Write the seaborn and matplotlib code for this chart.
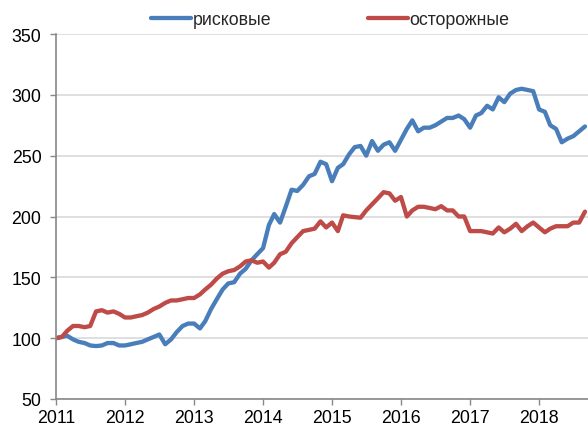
import pandas as pd
import matplotlib
matplotlib.use("Agg")
import matplotlib.pyplot as plt
import matplotlib.dates as mdates
import seaborn as sns

# monthly index values, Jan 2011 = 100
months = pd.date_range("2011-01-01", periods=93, freq="MS")

risky = [
    100, 101, 102, 99, 97, 96, 94, 93.5, 94, 96, 96, 94,
    94, 95, 96, 97, 99, 101, 103, 95, 99, 105, 110, 112,
    112, 108, 114, 124, 132, 140, 145, 146, 153, 157, 164, 169,
    174, 193, 202, 195, 208, 222, 221, 226, 233, 235, 245, 243,
    229, 240, 243, 251, 257, 258, 250, 262, 254, 259, 261, 254,
    263, 272, 279, 270, 273, 273, 275, 278, 281, 281, 283, 280,
    273, 283, 285, 291, 288, 298, 294, 301, 304, 305, 304, 303,
    288, 286, 275, 272, 261, 264, 266, 270, 274,
]
careful = [
    100, 101, 106, 110, 110, 109, 110, 122, 123, 121, 122, 120,
    117, 117, 118, 119, 121, 124, 126, 129, 131, 131, 132, 133,
    133, 136, 140, 144, 149, 153, 155, 156, 159, 163, 164, 162,
    163, 158, 162, 169, 171, 178, 183, 188, 189, 190, 196, 191,
    195, 188, 201, 200, 199.5, 199, 205, 210, 215, 220, 219, 213,
    216, 200, 205, 208, 208, 207, 206, 208.5, 205, 205, 200, 200,
    188, 188, 188, 187, 186, 191, 187, 190, 194, 188, 192, 195,
    191, 187, 190, 192, 192, 192, 195, 195, 204,
]

series_names = ["рисковые", "осторожные"]
colors = ["#4a7ebb", "#be4b48"]
y_ticks = [50, 100, 150, 200, 250, 300, 350]

df = pd.concat([
    pd.DataFrame({"date": months, "value": risky, "series": series_names[0]}),
    pd.DataFrame({"date": months, "value": careful, "series": series_names[1]}),
])

sns.set_theme(style="white")
plt.rcParams["font.family"] = ["Liberation Sans", "DejaVu Sans"]

fig = plt.figure(figsize=(5.88, 4.27), dpi=100)
ax = fig.add_axes([56 / 588, 1 - 400 / 427, 1 - 56 / 588, (400 - 35) / 427])

sns.lineplot(data=df, x="date", y="value", hue="series",
             palette=dict(zip(series_names, colors)), linewidth=3.1,
             ax=ax)

handles, labels = ax.get_legend_handles_labels()
ax.get_legend().remove()
fig.legend(handles, labels, loc="center", bbox_to_anchor=(0.562, 0.952),
           ncol=2, frameon=False, fontsize=12.8, handlelength=2.25,
           handletextpad=0.1, columnspacing=5.4)

ax.set_ylim(50, 350)
ax.set_yticks(y_ticks)
ax.set_xlim(pd.Timestamp("2011-01-01"), pd.Timestamp("2018-09-17"))
ax.xaxis.set_major_locator(mdates.YearLocator())
ax.xaxis.set_major_formatter(mdates.DateFormatter("%Y"))
ax.set_xlabel("")
ax.set_ylabel("")

ax.grid(axis="y", color="#d9d9d9", linewidth=1.2)
ax.grid(axis="x", visible=False)
ax.set_axisbelow(True)
for side in ["top", "right"]:
    ax.spines[side].set_visible(False)
for side in ["left", "bottom"]:
    ax.spines[side].set_color("#888888")
    ax.spines[side].set_linewidth(1.2)

ax.tick_params(axis="both", which="major", labelsize=12.8, colors="#888888",
               labelcolor="black", direction="out", length=4, width=1.0,
               bottom=True, left=True)
ax.tick_params(axis="y", pad=6.5)
ax.tick_params(axis="x", pad=3.5)

fig.savefig("out.png", dpi=100)
